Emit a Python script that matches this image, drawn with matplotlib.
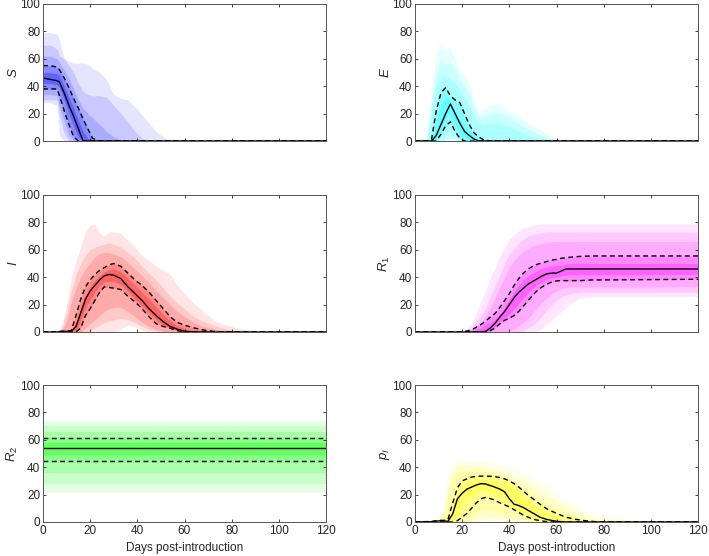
import matplotlib
matplotlib.use('Agg')
import matplotlib.pyplot as plt

plt.rcParams['font.family'] = ['Liberation Sans', 'DejaVu Sans']
plt.rcParams['mathtext.fontset'] = 'custom'
plt.rcParams['mathtext.rm'] = 'Liberation Sans'
plt.rcParams['mathtext.it'] = 'Liberation Sans:italic'

# ---- S (susceptible) ----
S_days = [0, 3, 6, 7, 9, 11, 13, 15, 17, 19, 21, 24, 27, 30, 33, 36, 39, 42, 45, 48, 51, 54, 57, 120]
S_hi975 = [79, 79, 78, 74, 60, 58, 57, 57, 57, 56, 53, 50, 45, 34, 31, 30, 25, 19, 13, 7, 3, 0.5, 0, 0]
S_hi95 = [70, 70, 67, 62, 60, 55, 50, 42, 36, 34, 33, 33, 32, 26, 20, 14, 7, 2, 0, 0, 0, 0, 0, 0]
S_hi90 = [62, 62, 60, 57, 52, 46, 38, 30, 24, 20, 17, 12, 7, 3, 1, 0, 0, 0, 0, 0, 0, 0, 0, 0]
S_hi75 = [55, 55, 54, 52, 46, 39, 31, 24, 16, 9, 2, 0, 0, 0, 0, 0, 0, 0, 0, 0, 0, 0, 0, 0]
S_hi625 = [50, 50, 49, 48, 40, 32, 24, 15, 7, 2, 0, 0, 0, 0, 0, 0, 0, 0, 0, 0, 0, 0, 0, 0]
S_med = [46, 45, 44, 43, 35, 26, 18, 9, 0, 0, 0, 0, 0, 0, 0, 0, 0, 0, 0, 0, 0, 0, 0, 0]
S_lo375 = [42, 42, 41, 39, 30, 20, 11, 3, 0, 0, 0, 0, 0, 0, 0, 0, 0, 0, 0, 0, 0, 0, 0, 0]
S_lo25 = [38, 38, 38, 33, 22, 12, 3, 0, 0, 0, 0, 0, 0, 0, 0, 0, 0, 0, 0, 0, 0, 0, 0, 0]
S_lo10 = [34, 34, 33, 25, 14, 4, 0, 0, 0, 0, 0, 0, 0, 0, 0, 0, 0, 0, 0, 0, 0, 0, 0, 0]
S_lo05 = [30, 30, 30, 18, 6, 0, 0, 0, 0, 0, 0, 0, 0, 0, 0, 0, 0, 0, 0, 0, 0, 0, 0, 0]
S_lo025 = [28, 28, 26, 4, 0, 0, 0, 0, 0, 0, 0, 0, 0, 0, 0, 0, 0, 0, 0, 0, 0, 0, 0, 0]

# ---- E (exposed) ----
E_days = [0, 5, 7, 9, 11, 13, 15, 17, 19, 21, 23, 25, 27, 29, 32, 35, 38, 42, 46, 50, 55, 60, 120]
E_hi975 = [0, 4, 40, 62, 72, 66, 67, 60, 52, 47, 44, 30, 22, 23, 26, 28, 24, 20, 15, 11, 6, 1, 0]
E_hi95 = [0, 2, 30, 50, 58, 56, 57, 52, 45, 40, 35, 24, 18, 18, 20, 21, 19, 15, 11, 7, 3, 0, 0]
E_hi90 = [0, 0, 20, 40, 47, 47, 45, 42, 38, 32, 26, 18, 13, 12, 13, 13, 12, 9, 6, 3, 1, 0, 0]
E_hi75 = [0, 0, 1, 22, 35, 39, 33, 30, 28, 20, 12, 6, 3, 1, 0, 0, 0, 0, 0, 0, 0, 0, 0]
E_hi625 = [0, 0, 0, 12, 26, 32, 30, 22, 16, 11, 7, 3, 1, 0, 0, 0, 0, 0, 0, 0, 0, 0, 0]
E_med = [0, 0, 0, 4, 12, 20, 27, 20, 13, 7, 4, 1.5, 0, 0, 0, 0, 0, 0, 0, 0, 0, 0, 0]
E_lo375 = [0, 0, 0, 1, 8, 16, 21, 13, 7, 3, 1, 0, 0, 0, 0, 0, 0, 0, 0, 0, 0, 0, 0]
E_lo25 = [0, 0, 0, 0, 5, 11, 14, 7, 2, 0, 0, 0, 0, 0, 0, 0, 0, 0, 0, 0, 0, 0, 0]
E_lo10 = [0, 0, 0, 0, 1, 4, 6, 3, 0, 0, 0, 0, 0, 0, 0, 0, 0, 0, 0, 0, 0, 0, 0]
E_lo05 = [0, 0, 0, 0, 0, 1, 2, 1, 0, 0, 0, 0, 0, 0, 0, 0, 0, 0, 0, 0, 0, 0, 0]
E_lo025 = [0, 0, 0, 0, 0, 0, 0, 0, 0, 0, 0, 0, 0, 0, 0, 0, 0, 0, 0, 0, 0, 0, 0]

# ---- I (infectious) ----
I_days = [0, 6, 8, 10, 12, 14, 16, 18, 20, 22, 24, 26, 28, 30, 33, 36, 39, 42, 45, 48,
          51, 54, 57, 60, 64, 68, 72, 76, 80, 85, 90, 100, 120]
I_hi975 = [0, 0, 5, 20, 40, 52, 62, 74, 78, 79, 72, 70, 73, 73, 72, 67, 62, 56, 52, 48,
           45, 42, 34, 28, 21, 15, 9, 6, 4, 2, 0.5, 0, 0]
I_hi95 = [0, 0, 3, 14, 30, 42, 50, 56, 60, 62, 63, 64, 65, 64, 62, 58, 54, 48, 43, 38,
          32, 26, 21, 17, 11, 8, 5, 3, 1.5, 0.5, 0, 0, 0]
I_hi90 = [0, 0, 1, 8, 22, 32, 40, 46, 51, 55, 57, 58, 58, 57, 55, 51, 46, 41, 36, 30,
          25, 20, 15, 11, 7, 4, 2.5, 1, 0.5, 0, 0, 0, 0]
I_hi75 = [0, 0, 0.5, 0.5, 1, 12, 24, 33, 38, 42, 45, 47, 49, 50, 48, 43, 38, 34, 29, 23,
          17, 11, 7, 5, 3, 1.5, 0.5, 0, 0, 0, 0, 0, 0]
I_hi625 = [0, 0, 0.5, 0.5, 0.7, 7, 17, 26, 33, 38, 41, 44, 45.5, 46, 44, 39, 34, 29, 24, 18,
           12.5, 8, 4.5, 2.5, 1.2, 0.5, 0, 0, 0, 0, 0, 0, 0]
I_med = [0, 0, 0.5, 0.5, 0.5, 4, 14, 24, 30, 34, 38, 41, 42, 41.5, 39, 33, 28, 23, 17, 12,
         7.5, 4, 2, 0.5, 0, 0, 0, 0, 0, 0, 0, 0, 0]
I_lo375 = [0, 0, 0, 0, 0, 1, 9, 18, 24, 29, 34, 36.5, 37, 37, 35, 30, 24, 19, 14, 9,
           5, 3, 1, 0, 0, 0, 0, 0, 0, 0, 0, 0, 0]
I_lo25 = [0, 0, 0, 0, 0, 0, 3, 12, 17, 23, 29, 33, 32.5, 32, 31, 26, 22, 17, 11, 6,
          4, 2.7, 1, 0, 0, 0, 0, 0, 0, 0, 0, 0, 0]
I_lo10 = [0, 0, 0, 0, 0, 0, 0, 3, 6, 9, 12, 15, 17, 18, 18, 15, 11, 7, 4, 2,
          0.5, 0, 0, 0, 0, 0, 0, 0, 0, 0, 0, 0, 0]
I_lo05 = [0, 0, 0, 0, 0, 0, 0, 0, 1, 3, 5, 7, 8, 9, 10, 9, 7, 4, 2, 0.5,
          0, 0, 0, 0, 0, 0, 0, 0, 0, 0, 0, 0, 0]
I_lo025 = [0, 0, 0, 0, 0, 0, 0, 0, 0, 0, 0, 0, 0, 0, 2, 5, 4, 1, 0, 0,
           0, 0, 0, 0, 0, 0, 0, 0, 0, 0, 0, 0, 0]

# ---- R1 ----
R1_days = [0, 20, 24, 28, 30, 32, 34, 36, 38, 40, 42, 44, 46, 48, 50, 52, 54, 56, 58, 60,
           62, 64, 66, 70, 75, 80, 120]
R1_hi975 = [0, 0, 6, 22, 30, 40, 47, 56, 62, 68, 71, 74, 76, 77, 78, 78.5, 79, 79, 79, 79,
            79, 79, 79, 79, 79, 79, 79]
R1_hi95 = [0, 0, 3, 12, 18, 26, 34, 42, 50, 57, 61, 65, 68, 70, 71, 72, 72.5, 73, 73, 73,
           73, 73, 73, 73, 73, 73, 73]
R1_hi90 = [0, 0, 2, 7, 12, 18, 25, 33, 40, 47, 52, 56, 59, 61, 63, 64, 65, 65.5, 66, 66,
           66, 66, 66, 66, 66, 66, 66]
R1_hi75 = [0, 0, 1.5, 5.5, 8, 11, 13.6, 18, 23, 28, 34, 39, 43, 46, 48, 49.5, 50.5, 51.5, 52.5, 53,
           53.8, 54.2, 54.6, 55.2, 55.5, 55.5, 55.5]
R1_hi625 = [0, 0, 0.5, 3, 5, 7, 9, 13, 18, 24, 29, 34, 38, 41, 43, 45, 46.5, 47.5, 48, 48.5,
            49, 49.5, 50, 50, 50, 50, 50]
R1_med = [0, 0, 0, 0, 0.5, 3, 6.5, 11, 15, 20, 25, 29, 32, 35, 37, 39, 41, 42.5, 43, 43,
          44.5, 46, 46, 46, 46, 46, 46]
R1_lo375 = [0, 0, 0, 0, 0, 1.5, 4, 7.5, 10, 13, 17, 21, 25, 29, 32, 35, 37, 38.5, 39.5, 40.5,
            41, 41.5, 42, 42, 42, 42, 42]
R1_lo25 = [0, 0, 0, 0, 0, 1, 3, 6, 8.5, 10, 12, 15, 19, 23, 27, 30.5, 33, 35, 36.5, 37.3,
           37.5, 37.5, 37.5, 37.5, 38, 38, 38.5]
R1_lo10 = [0, 0, 0, 0, 0, 0, 0, 0, 0, 1, 2, 4, 7, 10, 14, 18, 22, 25, 28, 30,
           31.5, 32.5, 33, 33, 33, 33, 33]
R1_lo05 = [0, 0, 0, 0, 0, 0, 0, 0, 0, 0, 0, 0, 1, 3, 5, 8, 12, 16, 20, 23,
           25.5, 27, 28, 29, 29, 29, 29]
R1_lo025 = [0, 0, 0, 0, 0, 0, 0, 0, 0, 0, 0, 0, 0, 0, 0, 1, 3, 6, 9, 12,
            15, 18, 21, 24.5, 26, 26, 26]

# ---- R2 (constant over time) ----
R2_days = [0, 120]
R2_hi975 = [73.5, 73.5]
R2_hi95 = [70, 70]
R2_hi90 = [66, 66]
R2_hi75 = [61.5, 61.5]
R2_hi625 = [58, 58]
R2_med = [54, 54]
R2_lo375 = [49, 49]
R2_lo25 = [44.5, 44.5]
R2_lo10 = [36, 36]
R2_lo05 = [28, 28]
R2_lo025 = [21, 21]

# ---- p_I ----
pI_days = [0, 7, 10, 12, 14, 16, 18, 20, 22, 24, 26, 28, 30, 33, 36, 38, 40, 42, 44, 46,
           48, 50, 53, 56, 60, 64, 68, 72, 76, 80, 90, 100, 120]
pI_hi975 = [0, 1, 2.5, 10, 35, 44, 45, 45, 45, 45, 44.5, 44, 44, 43.5, 42, 41, 40, 38, 36.5, 35,
            34, 32, 29, 26, 21, 16, 12, 7.5, 5, 3.5, 2, 0.5, 0]
pI_hi95 = [0, 0.6, 2, 6, 28, 38, 41, 41, 41, 41, 40.5, 40, 39.5, 38.5, 37, 36, 34, 32.5, 31, 29.5,
           28, 26, 22, 19, 15, 11, 8, 5, 3, 2, 1, 0, 0]
pI_hi90 = [0, 0.5, 1.5, 4, 20, 32, 36, 37, 37.5, 37.5, 37.5, 37, 36.5, 35.5, 34, 33, 31, 29, 27, 25,
           23, 21, 17, 14, 10, 7, 5, 3, 1.5, 1, 0.5, 0, 0]
pI_hi75 = [0, 0.4, 1.2, 1.2, 2, 14, 25, 30, 31.5, 32.8, 33.3, 33.5, 33.5, 33.3, 32.5, 31.5, 30, 28, 25.5, 22.5,
           19.5, 17, 13, 9.5, 6.3, 3.5, 2, 1, 0.3, 0, 0, 0, 0]
pI_hi625 = [0, 0.3, 1, 1, 1, 8, 19, 25, 28, 30, 31, 31, 31, 30.5, 29.5, 28.5, 27, 25, 22, 19,
            16, 13, 10, 7, 4, 2, 1, 0.5, 0, 0, 0, 0, 0]
pI_med = [0, 0.2, 0.8, 0.8, 0.5, 6, 17, 21, 24, 25.5, 27, 28, 27.7, 26, 24, 22, 17, 13, 12, 10.5,
          8.5, 6.5, 3.5, 1.8, 0.5, 0, 0, 0, 0, 0, 0, 0, 0]
pI_lo375 = [0, 0, 0, 0, 0, 1, 8, 14, 17, 19.5, 21.5, 23, 23, 21.5, 19.5, 18, 14, 10, 9, 7.5,
            6, 4.5, 2, 1, 0.2, 0, 0, 0, 0, 0, 0, 0, 0]
pI_lo25 = [0, 0, 0, 0, 0, 0, 1, 3.5, 6.3, 10, 14, 17, 18, 16.5, 14, 12.5, 11, 9, 7, 5,
           3.5, 2, 1, 0.2, 0, 0, 0, 0, 0, 0, 0, 0, 0]
pI_lo10 = [0, 0, 0, 0, 0, 0, 0, 1, 2, 4, 6, 8, 8.5, 8, 7, 6, 5, 4, 3, 2,
           1, 0.5, 0, 0, 0, 0, 0, 0, 0, 0, 0, 0, 0]
pI_lo05 = [0, 0, 0, 0, 0, 0, 0, 0, 0, 1, 2, 3, 3.5, 3.5, 3, 2.5, 2, 1.5, 1, 0.5,
           0, 0, 0, 0, 0, 0, 0, 0, 0, 0, 0, 0, 0]
pI_lo025 = [0, 0, 0, 0, 0, 0, 0, 0, 0, 0, 0, 0, 0, 0, 0, 0, 0, 0, 0, 0,
            0, 0, 0, 0, 0, 0, 0, 0, 0, 0, 0, 0, 0]

x_ticks = [0, 20, 40, 60, 80, 100, 120]
y_ticks = [0, 20, 40, 60, 80, 100]


def draw_panel(ax, days, lows, highs, lo25, hi75, med, color, label, bottom_row):
    # quantile bands, outermost first, stacked with increasing opacity
    alphas = [0.10, 0.12, 0.15, 0.20, 0.27]
    for lo, hi, a in zip(lows, highs, alphas):
        ax.fill_between(days, lo, hi, color=color, alpha=a, lw=0)
    ax.plot(days, hi75, color='k', lw=1.0, ls=(0, (3.5, 2.5)))
    ax.plot(days, lo25, color='k', lw=1.0, ls=(0, (3.5, 2.5)))
    ax.plot(days, med, color='k', lw=1.0)

    ax.set_xlim(0, 120)
    ax.set_ylim(0, 100)
    ax.set_xticks(x_ticks)
    ax.set_yticks(y_ticks)
    ax.tick_params(direction='in', top=True, right=True, length=2.5, width=0.6,
                   labelsize=8.5, colors='#262626', pad=2)
    for sp in ax.spines.values():
        sp.set_color('#555555')
        sp.set_linewidth(0.7)
    ax.set_ylabel(label, fontsize=9.5, color='#262626')
    ax.yaxis.set_label_coords(-0.08, 0.5)
    if bottom_row:
        ax.set_xlabel('Days post-introduction', fontsize=8.5, color='#262626', labelpad=3.5)
    else:
        ax.set_xticklabels([])


fig = plt.figure(figsize=(7.09, 5.56), dpi=100)

left_x = 43 / 709
right_x = 415 / 709
w = 283 / 709
h = 137 / 556
rows_bottom = [1 - 141 / 556, 1 - 332 / 556, 1 - 522 / 556]

ax_S = fig.add_axes([left_x, rows_bottom[0], w, h])
ax_E = fig.add_axes([right_x, rows_bottom[0], w, h])
ax_I = fig.add_axes([left_x, rows_bottom[1], w, h])
ax_R1 = fig.add_axes([right_x, rows_bottom[1], w, h])
ax_R2 = fig.add_axes([left_x, rows_bottom[2], w, h])
ax_pI = fig.add_axes([right_x, rows_bottom[2], w, h])

draw_panel(ax_S, S_days, [S_lo025, S_lo05, S_lo10, S_lo25, S_lo375],
           [S_hi975, S_hi95, S_hi90, S_hi75, S_hi625], S_lo25, S_hi75, S_med,
           '#0000ff', r'$S$', False)
draw_panel(ax_E, E_days, [E_lo025, E_lo05, E_lo10, E_lo25, E_lo375],
           [E_hi975, E_hi95, E_hi90, E_hi75, E_hi625], E_lo25, E_hi75, E_med,
           '#00ffff', r'$E$', False)
draw_panel(ax_I, I_days, [I_lo025, I_lo05, I_lo10, I_lo25, I_lo375],
           [I_hi975, I_hi95, I_hi90, I_hi75, I_hi625], I_lo25, I_hi75, I_med,
           '#ff0000', r'$I$', False)
draw_panel(ax_R1, R1_days, [R1_lo025, R1_lo05, R1_lo10, R1_lo25, R1_lo375],
           [R1_hi975, R1_hi95, R1_hi90, R1_hi75, R1_hi625], R1_lo25, R1_hi75, R1_med,
           '#ff00ff', r'$R_1$', False)
draw_panel(ax_R2, R2_days, [R2_lo025, R2_lo05, R2_lo10, R2_lo25, R2_lo375],
           [R2_hi975, R2_hi95, R2_hi90, R2_hi75, R2_hi625], R2_lo25, R2_hi75, R2_med,
           '#00ff00', r'$R_2$', True)
draw_panel(ax_pI, pI_days, [pI_lo025, pI_lo05, pI_lo10, pI_lo25, pI_lo375],
           [pI_hi975, pI_hi95, pI_hi90, pI_hi75, pI_hi625], pI_lo25, pI_hi75, pI_med,
           '#ffff00', r'$p_I$', True)

fig.savefig('out.png', dpi=100)
